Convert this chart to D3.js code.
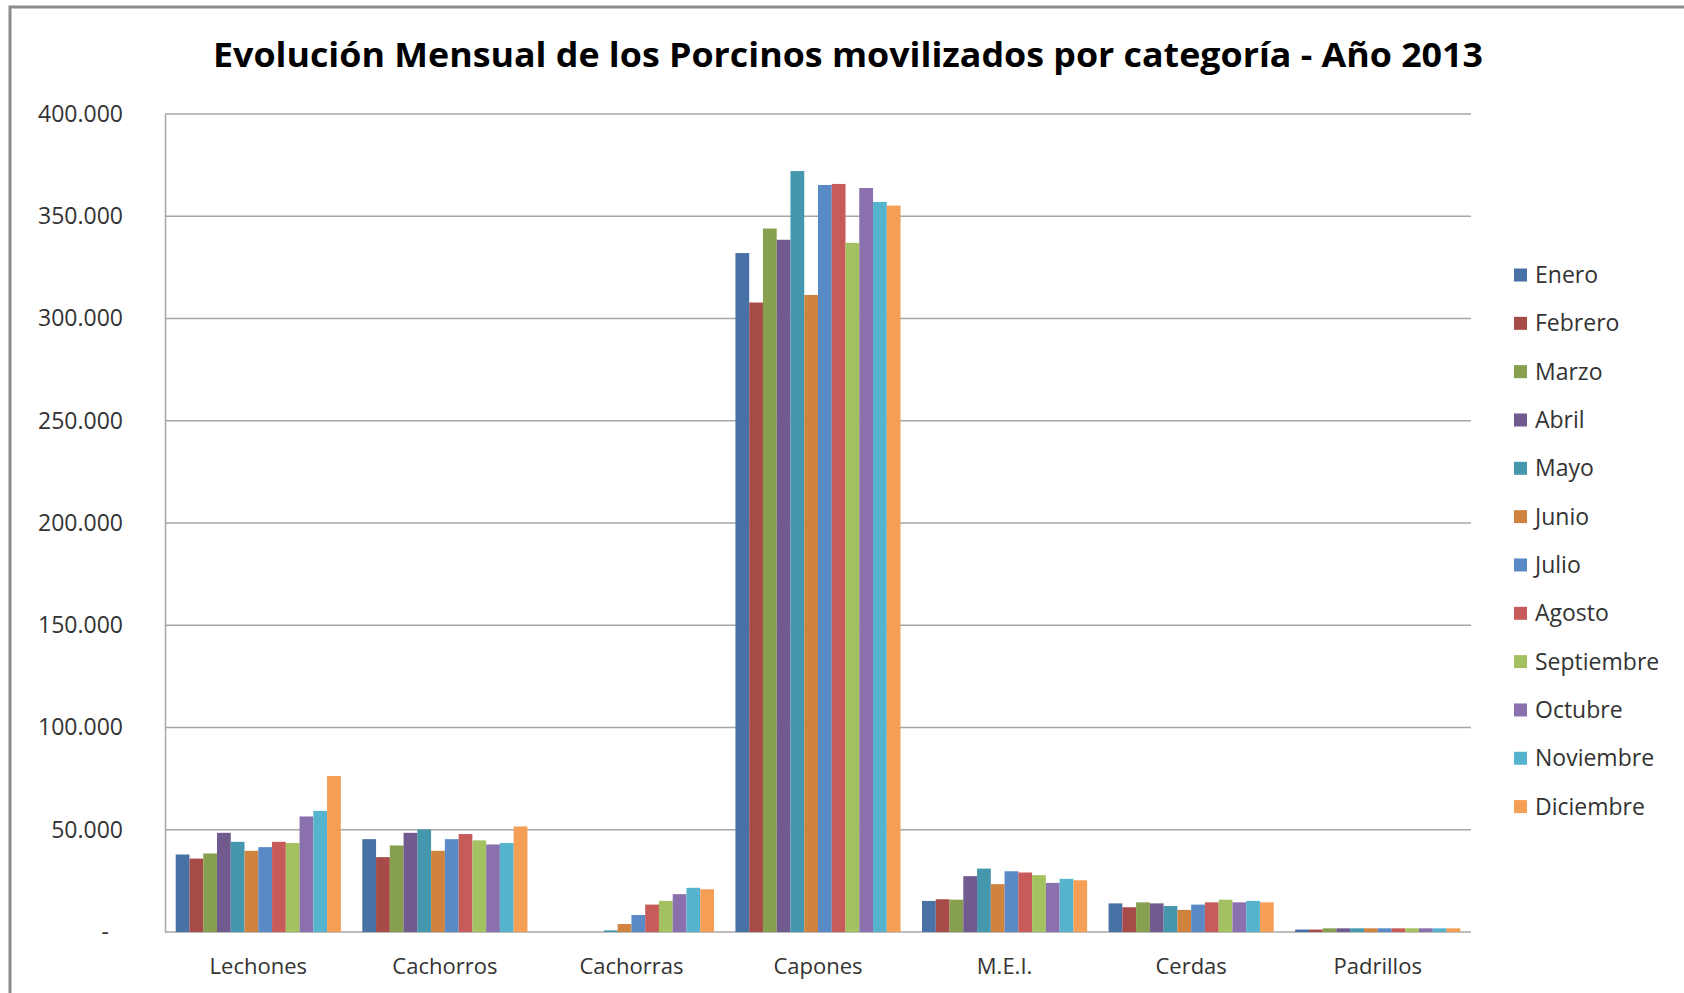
<!DOCTYPE html>
<html>
<head>
  <meta charset="utf-8">
  <style>
    body { margin: 0; background: #fff; }
    svg { display: block; }
  </style>
  <script src="https://d3js.org/d3.v7.min.js"></script>
</head>
<body>
  <svg width="1684" height="993"></svg>

  <script>
  var categorias = ["Lechones", "Cachorros", "Cachorras", "Capones", "M.E.I.", "Cerdas", "Padrillos"];
  var meses = ["Enero", "Febrero", "Marzo", "Abril", "Mayo", "Junio", "Julio",
               "Agosto", "Septiembre", "Octubre", "Noviembre", "Diciembre"];
  var colores = ["#4872a6", "#a64b48", "#87a04f", "#705a8e", "#4597ad", "#d0833f",
                 "#5a8ac6", "#c65b59", "#a4c162", "#8a70ac", "#55b3ce", "#f59e56"];

  // one array per category, Enero..Diciembre
  var lechones  = [37900, 35900, 38400, 48500, 44100, 39700, 41500, 44100, 43500, 56500, 59200, 76300];
  var cachorros = [45400, 36600, 42300, 48500, 50100, 39700, 45400, 47900, 44800, 42800, 43500, 51600];
  var cachorras = [0, 0, 0, 0, 800, 3900, 8300, 13400, 15200, 18500, 21600, 20900];
  var capones   = [332000, 307800, 344000, 338500, 372100, 311500, 365300, 365800, 337000, 363800, 357000, 355200];
  var mei       = [15200, 16000, 15800, 27300, 31000, 23400, 29700, 29100, 27800, 24000, 26000, 25300];
  var cerdas    = [14000, 12100, 14500, 14000, 12700, 10800, 13400, 14500, 15800, 14500, 15200, 14500];
  var padrillos = [1200, 1200, 1800, 1800, 1800, 1800, 1800, 1800, 1800, 1800, 1800, 1800];

  var yTicks = [0, 50000, 100000, 150000, 200000, 250000, 300000, 350000, 400000];

  var valores = [lechones, cachorros, cachorras, capones, mei, cerdas, padrillos];

  var svg = d3.select("svg");
  var font = "'Open Sans', 'DejaVu Sans', sans-serif";

  // chart frame (cut off at right and bottom like the screenshot)
  svg.append("path")
      .attr("d", "M10,1000 L10,7 L1690,7")
      .attr("fill", "none")
      .attr("stroke", "#8c8c8c")
      .attr("stroke-width", 3);

  var plotLeft = 165, plotRight = 1471, plotTop = 114, plotBottom = 932;

  var x0 = d3.scaleBand().domain(categorias).range([plotLeft, plotRight])
      .paddingInner(0.115).paddingOuter(0.0575);
  var x1 = d3.scaleBand().domain(meses).range([0, x0.bandwidth()]);
  var y = d3.scaleLinear().domain([0, 400000]).range([plotBottom, plotTop]);

  var fmt = d3.formatLocale({ decimal: ",", thousands: ".", grouping: [3], currency: ["", ""] }).format(",d");

  // grid lines
  svg.append("g")
      .selectAll("line")
      .data(yTicks.filter(function(d) { return d > 0; }))
      .enter().append("line")
      .attr("x1", plotLeft).attr("x2", plotRight)
      .attr("y1", function(d) { return y(d); })
      .attr("y2", function(d) { return y(d); })
      .attr("stroke", "#a6a6a6")
      .attr("stroke-width", 1.5);

  // y axis
  var yAxis = svg.append("g")
      .attr("transform", "translate(" + plotLeft + ",0)")
      .call(d3.axisLeft(y).tickValues(yTicks).tickSize(0).tickPadding(42)
        .tickFormat(function(d) { return d === 0 ? "-" : fmt(d); }));
  yAxis.select(".domain").attr("stroke", "#a6a6a6").attr("stroke-width", 1.5);
  yAxis.selectAll("text")
      .attr("font-family", font)
      .attr("font-size", 23)
      .attr("fill", "#333")
      .attr("dx", function(d) { return d === 0 ? -14 : 0; });

  // x axis
  var xAxis = svg.append("g")
      .attr("transform", "translate(0," + plotBottom + ")")
      .call(d3.axisBottom(x0).tickSize(0).tickPadding(26).tickSizeOuter(0));
  xAxis.select(".domain").attr("stroke", "#a6a6a6").attr("stroke-width", 1.5)
      .attr("d", "M" + plotLeft + ",0H" + plotRight);
  xAxis.selectAll("text")
      .attr("font-family", font)
      .attr("font-size", 22)
      .attr("fill", "#333");

  // bars
  var grupos = svg.append("g")
      .selectAll("g")
      .data(categorias)
      .enter().append("g")
      .attr("transform", function(d) { return "translate(" + x0(d) + ",0)"; });

  grupos.selectAll("rect")
      .data(function(d, i) {
        return valores[i].map(function(v, j) { return { mes: meses[j], v: v, c: colores[j] }; });
      })
      .enter().append("rect")
      .filter(function(d) { return d.v > 0; })
      .attr("x", function(d) { return x1(d.mes); })
      .attr("width", x1.bandwidth())
      .attr("y", function(d) { return y(d.v); })
      .attr("height", function(d) { return plotBottom - y(d.v); })
      .attr("fill", function(d) { return d.c; });

  // title
  svg.append("text")
      .attr("x", 848)
      .attr("y", 67)
      .attr("text-anchor", "middle")
      .attr("font-family", font)
      .attr("font-weight", "bold")
      .attr("font-size", 34)
      .attr("textLength", 1270)
      .attr("lengthAdjust", "spacingAndGlyphs")
      .attr("fill", "#000")
      .text("Evolución Mensual de los Porcinos movilizados por categoría - Año 2013");

  // legend
  var ly = d3.scalePoint().domain(meses).range([275, 806.6]);
  var leyenda = svg.append("g")
      .selectAll("g")
      .data(meses)
      .enter().append("g")
      .attr("transform", function(d) { return "translate(1514," + ly(d) + ")"; });
  leyenda.append("rect")
      .attr("x", 0).attr("y", -6.5)
      .attr("width", 13).attr("height", 13)
      .attr("fill", function(d, i) { return colores[i]; });
  leyenda.append("text")
      .attr("x", 21)
      .attr("dy", "0.35em")
      .attr("font-family", font)
      .attr("font-size", 23)
      .attr("fill", "#333")
      .text(function(d) { return d; });
  </script>
</body>
</html>
